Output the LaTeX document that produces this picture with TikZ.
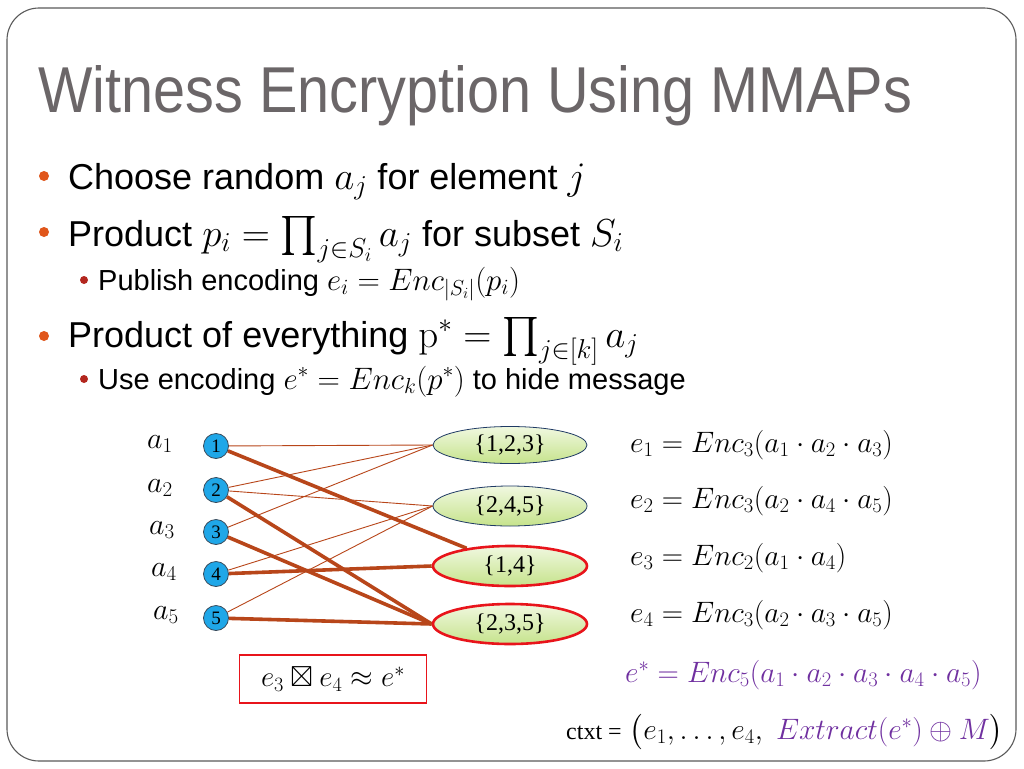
\RequirePackage{fix-cm}
\documentclass[tikz,border=0pt]{standalone}
\usepackage{amsmath,amssymb}
\usepackage[no-math]{fontspec}
\setmainfont{Liberation Sans}
\newfontfamily\serifface{Liberation Serif}
\usetikzlibrary{shapes.geometric,backgrounds}
\definecolor{titlegray}{HTML}{6B6668}
\definecolor{framegray}{HTML}{5A5A5A}
\definecolor{bulorange}{HTML}{E0561B}
\definecolor{bulred}{HTML}{B3261E}
\definecolor{elemblue}{HTML}{1FA7E8}
\definecolor{elemborder}{HTML}{3A4A5A}
\definecolor{setlight}{HTML}{F0F8E0}
\definecolor{setdark}{HTML}{C6E38C}
\definecolor{navy}{HTML}{1F3A64}
\definecolor{hotred}{HTML}{E8141B}
\definecolor{edgebrown}{HTML}{B8461A}
\definecolor{purp}{HTML}{7030A0}
\newcommand{\mthbig}[1]{{\fontsize{39}{46}\selectfont$#1$}}
\newcommand{\mthsub}[1]{{\fontsize{31}{37}\selectfont$#1$}}
\begin{document}
\begin{tikzpicture}[x=1pt,y=-1pt,
  txt/.style={anchor=base west, inner sep=0pt, font=\fontsize{36}{43}\selectfont},
  subtxt/.style={anchor=base west, inner sep=0pt, font=\fontsize{29}{35}\selectfont},
  bul/.style={circle, fill=bulorange, inner sep=0pt, minimum size=10pt},
  subbul/.style={circle, fill=bulred, inner sep=0pt, minimum size=8pt},
  alab/.style={inner sep=0pt, font=\fontsize{30}{36}\selectfont},
  elem/.style={circle, draw=elemborder, line width=0.8pt, fill=elemblue, inner sep=0pt, minimum size=25pt, font=\serifface\fontsize{19}{21}\selectfont},
  setn/.style={ellipse, inner sep=0pt, minimum width=154pt, minimum height=40pt, top color=setlight, bottom color=setdark, font=\serifface\fontsize{24}{28}\selectfont},
  plainset/.style={setn, draw=navy, line width=0.8pt},
  hotset/.style={setn, draw=hotred, line width=2.6pt},
  thinedge/.style={draw=edgebrown, line width=0.9pt},
  thickedge/.style={draw=edgebrown, line width=3.6pt},
  eq/.style={anchor=west, inner sep=0pt, font=\fontsize{29.5}{35}\selectfont}]
\useasboundingbox (0,0) rectangle (1024,768);
\begin{scope}[on background layer]
\fill[white] (0,0) rectangle (1024,768);
\end{scope}
\draw[framegray, line width=1.1pt, rounded corners=32pt] (7,8) rectangle (1016,761);

% title
\node[anchor=base west, inner sep=0pt, text=titlegray] (title) at (38,112)
  {\resizebox{874pt}{47pt}{Witness Encryption Using MMAPs}};

% bullets
\node[bul] (b1) at (44,176) {};
\node[txt] (t1) at (68,189) {Choose random \mthbig{a_j} for element \mthbig{j}};
\node[bul] (b2) at (44,232) {};
\node[txt] (t2) at (68,246) {Product \mthbig{p_i=\prod_{j\in S_i} a_j} for subset \mthbig{S_i}};
\node[subbul] (b3) at (84,280) {};
\node[subtxt] (t3) at (98,290) {Publish encoding \mthsub{e_i=Enc_{|S_i|}(p_i)}};
\node[bul] (b4) at (44,336) {};
\node[txt] (t4) at (68,347) {Product of everything \mthbig{\mathrm{p}^*=\prod_{j\in[k]} a_j}};
\node[subbul] (b5) at (84,379) {};
\node[subtxt] (t5) at (98,389) {Use encoding \mthsub{e^*=Enc_k(p^*)} to hide message};

% element labels
\node[alab] (a1) at (160,444) {$a_1$};
\node[alab] (a2) at (160,488) {$a_2$};
\node[alab] (a3) at (162,530) {$a_3$};
\node[alab] (a4) at (164,572) {$a_4$};
\node[alab] (a5) at (166,615) {$a_5$};

% elements
\node[elem] (n1) at (216,446) {1};
\node[elem] (n2) at (216,490) {2};
\node[elem] (n3) at (216,532) {3};
\node[elem] (n4) at (216,574) {4};
\node[elem] (n5) at (216,618) {5};

% sets
\node[plainset, minimum height=37pt] (s1) at (510,445) {\{1,2,3\}};
\node[plainset] (s2) at (510,506) {\{2,4,5\}};
\node[hotset] (s3) at (510,566) {\{1,4\}};
\node[hotset] (s4) at (510,624) {\{2,3,5\}};

% edges
\begin{scope}[on background layer]
\draw[thinedge] (n1) -- (s1.west);
\draw[thinedge] (n2) -- (s1.west);
\draw[thinedge] (n3) -- (s1.west);
\draw[thinedge] (n2) -- (s2.west);
\draw[thinedge] (n4) -- (s2.west);
\draw[thinedge] (n5) -- (s2.west);
\draw[thickedge] (n1) -- (s3);
\draw[thickedge] (n4) -- (s3.west);
\draw[thickedge] (n2) -- (s4.west);
\draw[thickedge] (n3) -- (s4.west);
\draw[thickedge] (n5) -- (s4.west);
\end{scope}

% encodings
\node[eq] (e1) at (630,445) {$e_1 = Enc_3(a_1\cdot a_2\cdot a_3)$};
\node[eq] (e2) at (630,501) {$e_2 = Enc_3(a_2\cdot a_4\cdot a_5)$};
\node[eq] (e3) at (630,558) {$e_3 = Enc_2(a_1\cdot a_4)$};
\node[eq] (e4) at (630,615) {$e_4 = Enc_3(a_2\cdot a_3\cdot a_5)$};
\node[eq, text=purp] (es) at (625,675) {$e^* = Enc_5(a_1\cdot a_2\cdot a_3\cdot a_4\cdot a_5)$};
\node[eq] (ct) at (566,732) {{\fontsize{24}{28}\serifface\selectfont ctxt =} $\bigl(e_1,\ldots,e_4,\ \textcolor{purp}{Extract(e^*)\oplus M}\bigr)$};

% red box
\node[draw=hotred, line width=1.5pt, minimum width=187pt, minimum height=48pt, inner sep=0pt, font=\fontsize{29}{34}\selectfont] (box) at (333,679) {$e_3\boxtimes e_4\approx e^*$};
\end{tikzpicture}
\end{document}
